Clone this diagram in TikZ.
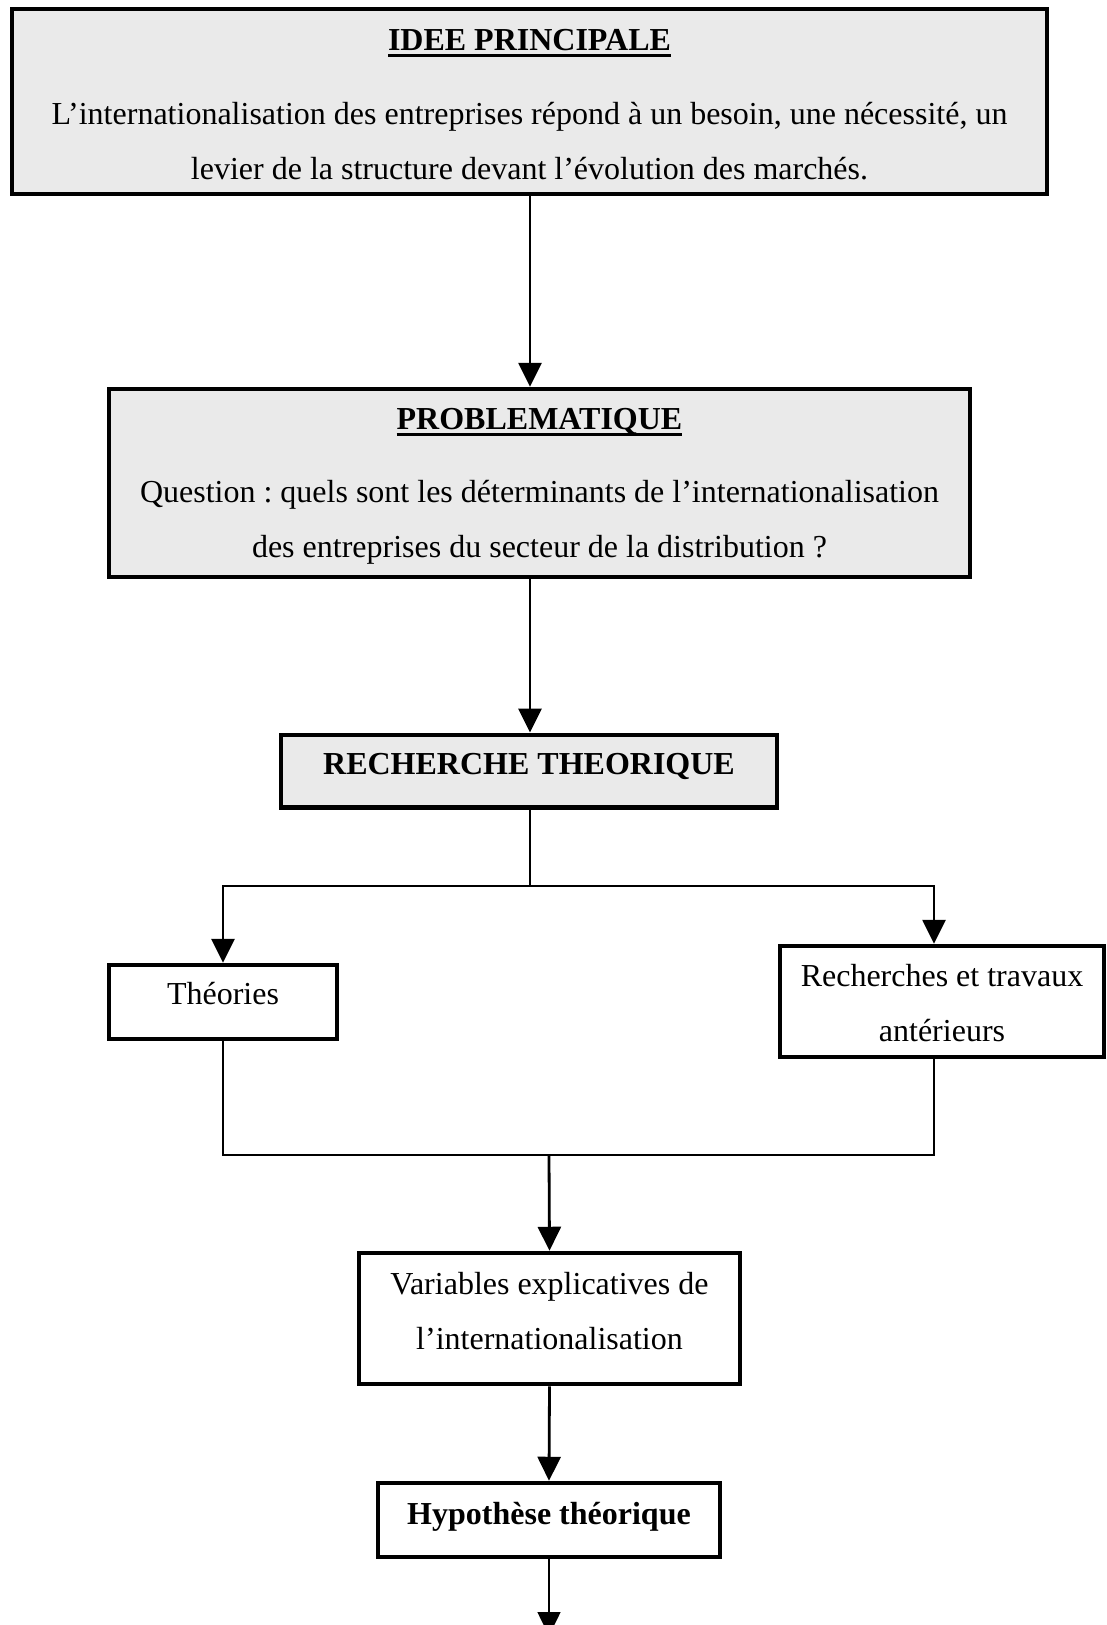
\documentclass[tikz,border=0pt]{standalone}
\usepackage{fontspec}
\setmainfont{Liberation Serif}
\usetikzlibrary{arrows.meta}
\definecolor{boxgray}{HTML}{EAEAEA}
\frenchspacing
\newsavebox\ttlbox
\newcommand\ttl[1]{\sbox\ttlbox{\textbf{#1}}\rule{0pt}{27pt}\rlap{\vrule width\wd\ttlbox height -3.5pt depth 6.5pt}\usebox\ttlbox}
\begin{document}
\begin{tikzpicture}[x=1pt,y=-1pt,
  box/.style={draw, line width=4.5pt, rectangle, inner sep=0pt, align=center,
    font=\fontsize{32}{55}\selectfont},
  graybox/.style={box, fill=boxgray},
  link/.style={line width=2.8pt},
  arr/.style={link, -{Triangle[width=23pt,length=24pt]}},
  thinarr/.style={line width=1.5pt, -{Triangle[width=23pt,length=24pt]}},
]
\clip (0,0) rectangle (1107,1625);
\fill[white] (0,0) rectangle (1107,1625);

\node[graybox, minimum width=1035pt, minimum height=185pt] (idee) at (529.5,101.5)
  {\ttl{IDEE PRINCIPALE}\\[19pt]
   L’internationalisation des entreprises répond à un besoin, une nécessité, un\\
   levier de la structure devant l’évolution des marchés.};

\node[graybox, minimum width=861pt, minimum height=188pt] (prob) at (539.5,483)
  {\ttl{PROBLEMATIQUE}\\[18pt]
   Question : quels sont les déterminants de l’internationalisation\\
   des entreprises du secteur de la distribution ?};

\node[graybox, minimum width=496pt, minimum height=72.5pt, text depth=15pt,
  font=\fontsize{32}{55}\selectfont\bfseries] (rech) at (529,771)
  {RECHERCHE THEORIQUE};

\node[box, minimum width=228pt, minimum height=74pt, text depth=17pt] (theo) at (223,1002) {Théories};

\node[box, minimum width=324pt, minimum height=111pt] (trav) at (942,1001.5)
  {\rule{0pt}{26pt}Recherches et travaux\\antérieurs};

\node[box, minimum width=381pt, minimum height=131pt, text depth=16pt] (var) at (549.5,1318.5)
  {Variables explicatives de\\l’internationalisation};

\node[box, minimum width=342pt, minimum height=74pt, text depth=13pt,
  font=\fontsize{32}{55}\selectfont\bfseries] (hyp) at (549,1520)
  {Hypothèse théorique};

\coordinate (c1) at (530,0);
\coordinate (cr) at (934,0);
\coordinate (j1) at (530,886);
\coordinate (j2) at (549,1155);
\coordinate (fin) at (549,1636);

\draw[arr] (idee.south -| c1) -- (prob.north -| c1);
\draw[arr] (prob.south -| c1) -- (rech.north -| c1);
\draw[link] (rech.south -| c1) -- (j1);
\draw[arr] (j1) -| (theo.north);
\draw[arr] (j1) -| (trav.north -| cr);
\draw[link] (theo.south) |- (j2 -| cr) -- (trav.south -| cr);
\draw[arr] (j2) -- (var.north);
\draw[arr] (var.south) -- (hyp.north);
\draw[thinarr] (hyp.south) -- (fin);
\end{tikzpicture}
\end{document}
